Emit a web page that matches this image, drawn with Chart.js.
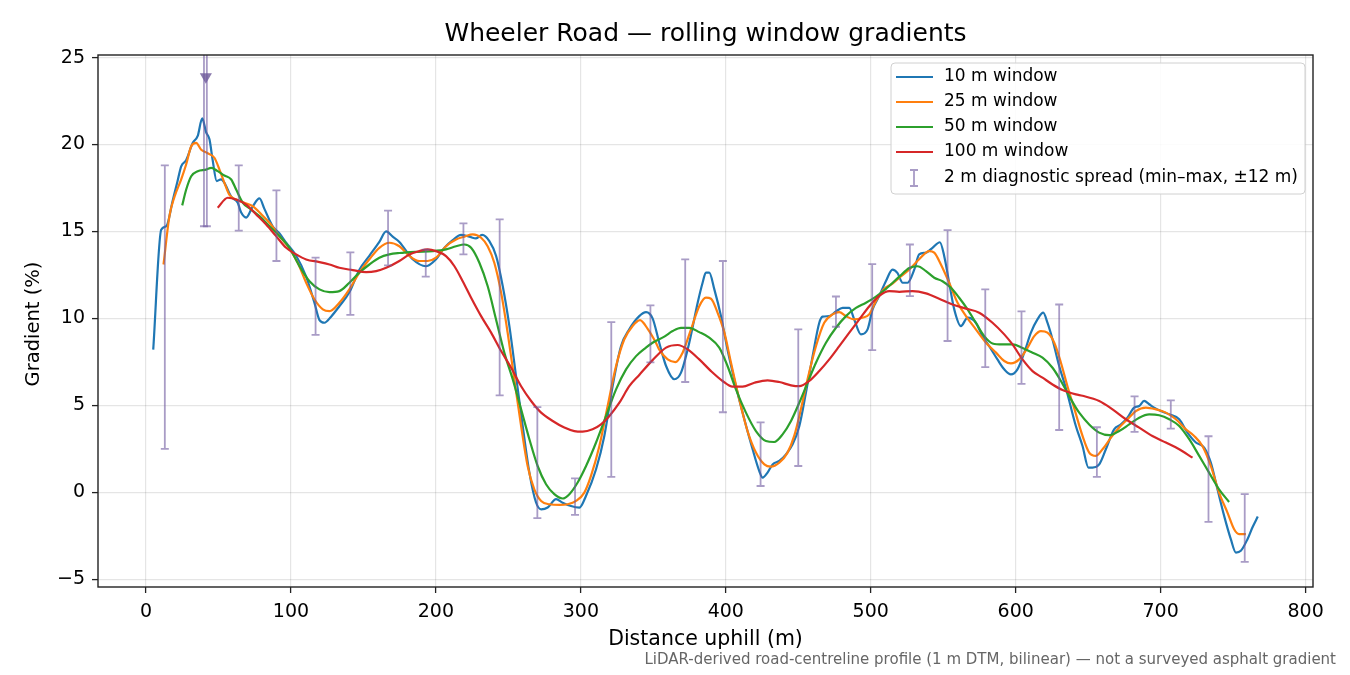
<!DOCTYPE html>
<html>
<head>
<meta charset="utf-8">
<script src="https://cdn.jsdelivr.net/npm/chart.js@4.4.1/dist/chart.umd.min.js"></script>
<style>
  html, body { margin: 0; padding: 0; background: #fff; }
  #wrap { width: 1350px; height: 675px; }
</style>
</head>
<body>
<div id="wrap"><canvas id="chart" width="1350" height="675"></canvas></div>
<script>
// [distance m, gradient %]
const win10 = [[5,8.2],[10.5,15.1],[14,15.3],[18.5,16.8],[21.5,17.8],[24.3,18.75],[27.7,19.1],[32.3,20.1],[35.7,20.5],[38.8,21.5],[41.5,20.7],[43.8,20.3],[46,19.1],[48.8,17.9],[51.8,18.0],[54.1,17.8],[58.8,17.0],[63.3,16.65],[65.6,16.1],[69.1,15.8],[73.7,16.45],[78.3,16.9],[81.7,16.3],[87.4,15.3],[92,14.9],[96.7,14.35],[103.6,13.6],[110.5,12.4],[116.2,10.9],[119.7,9.9],[123.1,9.75],[127.7,10.1],[133.4,10.7],[140.3,11.5],[147.2,12.8],[154.1,13.6],[161,14.4],[165.7,15.0],[170.2,14.7],[174.8,14.4],[184,13.4],[193.2,13.0],[200.1,13.4],[205.9,14.06],[211.6,14.5],[217.4,14.8],[223.1,14.7],[227.7,14.6],[231.9,14.8],[236.9,14.45],[241.5,13.6],[246.1,11.86],[250.7,9.56],[255.3,6.68],[259.9,3.8],[264.5,1.13],[269.1,-0.59],[272.6,-0.98],[277.1,-0.88],[282.9,-0.4],[287.4,-0.6],[293.2,-0.79],[299,-0.88],[303.6,-0.2],[310.5,1.32],[316.2,3.24],[321.9,6.1],[327.7,8.4],[333.4,9.37],[340.3,10.13],[345,10.36],[349.5,10.0],[354.1,8.6],[358.8,7.26],[364.5,6.5],[369.1,6.88],[374.8,8.6],[380.6,10.9],[384,12.05],[386.3,12.63],[388.6,12.63],[392.1,11.67],[396.7,10.13],[401.2,8.2],[407,6.1],[412.8,4.2],[418.5,2.47],[423.1,1.22],[425.4,0.84],[428.8,1.13],[432.3,1.6],[436.9,1.8],[441.5,2.18],[446.1,2.76],[450.7,3.8],[455.3,5.73],[459.9,7.83],[464.5,9.75],[466.8,10.1],[471.4,10.13],[476,10.4],[480.6,10.6],[485.2,10.6],[488.6,9.94],[493.2,9.08],[497.8,9.37],[501.2,10.5],[505.9,11.3],[510.5,12.15],[515,12.8],[518.5,12.6],[522,12.05],[525.4,12.05],[530,12.8],[533.4,13.68],[538.1,13.78],[542.6,14.06],[547.7,14.38],[550.7,13.58],[554.1,12.05],[557.6,10.52],[562.2,9.56],[566.8,10.04],[572.5,9.75],[577.1,8.98],[581.7,8.4],[587.4,7.64],[592.1,7.07],[596.7,6.78],[601.2,7.07],[605.9,8.03],[610.5,9.18],[615,9.94],[619,10.33],[621.9,9.75],[625.4,8.79],[630,7.26],[634.6,6.0],[641.5,3.81],[646.1,2.66],[650.2,1.42],[653,1.42],[657.6,1.6],[662.2,2.47],[667.9,3.62],[672.6,3.9],[677.1,4.29],[681.7,4.87],[685.2,4.96],[688.6,5.25],[692.1,5.06],[695.5,4.87],[700.1,4.67],[705.9,4.48],[712.8,4.2],[718.5,3.43],[724.3,2.86],[730,2.57],[734.6,1.7],[739.2,0.17],[743.8,-1.36],[748.4,-2.7],[751.9,-3.47],[755.3,-3.37],[759.9,-2.7],[763.3,-2.03],[767,-1.4]];

const win25 = [[12.1,13.1],[16.2,15.9],[19.7,17.0],[24.3,18.0],[27.7,18.85],[31.2,19.9],[34.6,20.1],[38.1,19.7],[42.6,19.5],[47.2,19.24],[50.7,18.56],[54.1,17.8],[57.6,17.1],[62.2,16.84],[67.9,16.65],[73.7,16.45],[79.4,16.0],[85.2,15.5],[92.1,14.73],[97.8,14.15],[104.7,13.2],[110.5,12.05],[116.2,11.1],[122,10.52],[126.6,10.42],[133.4,10.9],[140.3,11.67],[147.2,12.63],[154.1,13.4],[161,14.06],[167.9,14.35],[174.8,14.15],[181.7,13.6],[188.6,13.3],[194.3,13.3],[200.1,13.49],[207,14.15],[213.9,14.54],[219.7,14.7],[225.4,14.83],[231.2,14.64],[235.7,14.15],[240.3,13.2],[245,11.48],[249.5,9.18],[254.1,6.5],[258.8,3.81],[263.3,1.51],[267.9,0.17],[272.6,-0.5],[278.3,-0.69],[285.2,-0.73],[290.9,-0.69],[296.7,-0.5],[302.4,-0.02],[307,0.94],[312.8,2.66],[318.5,4.96],[324.3,7.26],[330,8.8],[335.7,9.56],[340.8,9.9],[346.1,9.4],[351.8,8.6],[354.1,8.2],[359.9,7.64],[365.2,7.49],[370.2,8.03],[376,9.37],[381.7,10.7],[386.3,11.19],[389.8,11.13],[394.3,10.33],[399,9.18],[403.6,7.45],[409.3,5.34],[415,3.52],[420.8,2.28],[426.6,1.6],[431.1,1.47],[436.9,1.7],[442.6,2.28],[447.2,3.24],[451.8,4.77],[456.4,6.5],[462.2,8.4],[467.9,9.75],[473.7,10.23],[478.3,10.36],[482.9,10.13],[488.6,9.94],[494.3,10.04],[498.9,10.23],[503.6,11.0],[509.3,11.7],[515,12.0],[519.7,12.34],[526.6,12.82],[533.4,13.4],[540.3,13.87],[543.8,13.78],[548.4,13.1],[554.1,12.05],[559.9,10.9],[565.7,10.13],[572.5,9.37],[579.5,8.6],[586.4,8.03],[592.1,7.55],[596.7,7.41],[602.4,7.64],[608.1,8.3],[612.8,8.98],[617.4,9.27],[621.9,9.18],[626.6,8.6],[631.2,7.45],[635.7,6.1],[641,4.65],[646.1,3.24],[650.7,2.28],[655.3,2.09],[659.9,2.47],[665.7,3.14],[671.4,3.72],[677.1,4.2],[682.9,4.67],[689.8,4.87],[696.7,4.77],[703.6,4.58],[710.5,4.2],[717.4,3.62],[723.1,3.24],[728.8,2.66],[734.6,1.51],[740.3,-0.02],[746.1,-1.17],[750.7,-2.13],[754.1,-2.41],[758.8,-2.41]];

const win50 = [[25,16.5],[27.7,17.4],[31.2,18.18],[35.7,18.47],[41.5,18.56],[45,18.66],[49.5,18.47],[54.1,18.22],[58.8,17.99],[62.2,17.41],[66.8,16.65],[72.6,16.26],[78.3,15.88],[85.2,15.3],[92.1,14.73],[99,14.06],[105.9,13.0],[112.8,12.14],[119.7,11.67],[126.6,11.51],[133.4,11.57],[140.3,12.05],[147.2,12.63],[154.1,13.1],[161,13.49],[167.9,13.68],[174.8,13.76],[186.3,13.83],[197.8,13.87],[207,13.97],[213.9,14.15],[219.7,14.25],[224.3,14.06],[230,13.2],[235.7,11.86],[241.5,9.94],[247.2,8.03],[253,6.5],[258.8,4.77],[264.5,3.05],[270.2,1.51],[276,0.46],[281.7,-0.11],[287.4,-0.36],[292.1,-0.11],[297.8,0.56],[303.6,1.51],[310.5,2.86],[317.4,4.39],[324.3,5.92],[331.2,7.07],[338.1,7.83],[344.9,8.32],[349.5,8.6],[357.6,8.95],[363.3,9.27],[369.1,9.46],[374.8,9.46],[381.7,9.21],[388.6,8.89],[395.5,8.32],[401.2,7.26],[407,5.92],[413.9,4.58],[420.8,3.52],[427.7,2.95],[433.4,2.89],[439.2,3.33],[445,4.1],[450.7,5.15],[456.4,6.3],[462.2,7.45],[469.1,8.6],[476,9.46],[482.9,10.13],[489.8,10.6],[496.7,10.9],[503.6,11.25],[510.5,11.7],[519.7,12.4],[526.6,12.9],[532.3,13.0],[538.1,12.72],[543.8,12.34],[549.5,12.14],[555.3,11.76],[561,11.19],[566.8,10.52],[572.5,9.75],[578.3,8.98],[584,8.56],[590.9,8.5],[597.8,8.5],[604.7,8.3],[611.6,8.03],[618.5,7.74],[625.4,7.16],[631.2,6.4],[636.9,5.53],[641.5,4.87],[643.8,4.58],[650.7,3.9],[657.6,3.43],[664.5,3.28],[671.4,3.52],[678.3,3.9],[685.2,4.29],[692.1,4.48],[699,4.43],[705.9,4.2],[712.8,3.81],[719.7,3.05],[726.6,2.09],[733.4,1.13],[740.3,0.17],[747.2,-0.56]];

const win100 = [[49.5,16.36],[56.4,16.94],[62.2,16.84],[69.1,16.55],[76,15.98],[82.9,15.4],[89.8,14.73],[96.7,14.06],[103.6,13.68],[110.5,13.39],[119.7,13.24],[126.6,13.1],[133.4,12.91],[142.6,12.78],[151.9,12.66],[158.8,12.72],[165.7,12.91],[174.8,13.3],[181.7,13.68],[188.6,13.87],[194.3,13.97],[200.1,13.87],[207,13.58],[212.8,13.0],[218.5,12.14],[224.3,11.19],[231.2,10.13],[238.1,9.18],[245,8.12],[251.9,7.16],[258.8,6.1],[265.7,5.25],[272.6,4.58],[280.6,4.1],[288.6,3.72],[295.5,3.52],[301.2,3.49],[308.1,3.62],[313.9,3.9],[319.7,4.39],[326.6,5.15],[333.4,6.1],[340.3,6.75],[349.5,7.6],[358.8,8.32],[366.8,8.47],[373.7,8.22],[381.7,7.64],[389.8,6.97],[397.8,6.4],[404.7,6.07],[411.6,6.07],[419.7,6.3],[428.8,6.44],[436.9,6.34],[445,6.15],[450.7,6.1],[457.6,6.4],[464.5,6.97],[471.4,7.64],[478.3,8.4],[485.2,9.18],[492.1,9.94],[499,10.7],[505.9,11.3],[512.8,11.57],[519.7,11.53],[528.8,11.57],[538.1,11.44],[547.2,11.13],[556.4,10.8],[565.7,10.56],[574.8,10.33],[584,9.75],[592.1,9.08],[597.8,8.5],[604.7,7.64],[611.6,6.97],[618.5,6.59],[625.4,6.2],[632.3,5.88],[641.5,5.63],[646.1,5.55],[657.6,5.25],[666.8,4.77],[676,4.2],[685.2,3.72],[694.3,3.24],[703.6,2.86],[712.8,2.47],[722,1.99]];

// 2 m diagnostic spread: position, min, max
const spreadX  = [13, 40, 42, 64, 90, 117, 141, 167, 193, 219, 244, 270, 296, 321, 348, 372, 398, 424, 450, 476, 501, 527, 553, 579, 604, 630, 656, 682, 707, 733, 758];
const spreadLo = [2.5, 15.3, 15.3, 15.05, 13.3, 9.05, 10.2, 13.05, 12.4, 13.68, 5.57, -1.49, -1.3, 0.88, 7.47, 6.34, 4.6, 0.36, 1.51, 9.52, 8.18, 11.28, 8.7, 7.2, 6.23, 3.58, 0.88, 3.47, 3.66, -1.7, -4.0];
const spreadHi = [18.8, 27, 27, 18.8, 17.36, 13.5, 13.8, 16.2, 13.95, 15.46, 15.7, 4.9, 0.8, 9.79, 10.75, 13.39, 13.3, 4.02, 9.37, 11.26, 13.12, 14.25, 15.08, 11.67, 10.4, 10.8, 3.74, 5.52, 5.29, 3.22, -0.11];
// off-scale marker for the clipped spread
const clipMark = [[41.3, 23.9]];

const xTicks = [0, 100, 200, 300, 400, 500, 600, 700, 800];
const yTicks = [-5, 0, 5, 10, 15, 20, 25];

const seriesNames  = ['10 m window', '25 m window', '50 m window', '100 m window'];
const seriesColors = ['#1f77b4', '#ff7f0e', '#2ca02c', '#d62728'];
const spreadLabel = '2 m diagnostic spread (min\u2013max, \u00b112 m)';
const spreadColor = 'rgba(112, 90, 160, 0.6)';

const FONT = "'DejaVu Sans', 'Noto Sans', sans-serif";

const toPts = (arr) => arr.map(p => ({ x: p[0], y: p[1] }));

const lineSet = (data, i) => ({
  type: 'line',
  label: seriesNames[i],
  data: toPts(data),
  borderColor: seriesColors[i],
  backgroundColor: seriesColors[i],
  borderWidth: 2.2,
  pointRadius: 0,
  tension: 0,
  cubicInterpolationMode: 'monotone',
  fill: false,
  order: 4 - i
});

const decor = {
  id: 'decor',
  afterDatasetsDraw(chart) {
    const { ctx, chartArea: a, scales: { x, y } } = chart;
    ctx.save();
    ctx.beginPath();
    ctx.rect(a.left, a.top, a.right - a.left, a.bottom - a.top);
    ctx.clip();
    ctx.strokeStyle = spreadColor;
    ctx.lineWidth = 1.8;
    spreadX.forEach((d, i) => {
      const px = x.getPixelForValue(d);
      const lo = y.getPixelForValue(spreadLo[i]);
      const hi = y.getPixelForValue(spreadHi[i]);
      ctx.beginPath();
      ctx.moveTo(px, lo); ctx.lineTo(px, hi);
      ctx.moveTo(px - 4, lo); ctx.lineTo(px + 4, lo);
      ctx.moveTo(px - 4, hi); ctx.lineTo(px + 4, hi);
      ctx.stroke();
    });
    ctx.restore();
  },
  afterDraw(chart) {
    const { ctx, chartArea: a } = chart;
    ctx.save();
    // axes box
    ctx.strokeStyle = '#222';
    ctx.lineWidth = 1.4;
    ctx.strokeRect(a.left, a.top, a.right - a.left, a.bottom - a.top);

    ctx.fillStyle = '#000';
    ctx.textAlign = 'center';
    ctx.textBaseline = 'middle';
    ctx.font = '25px ' + FONT;
    ctx.fillText('Wheeler Road \u2014 rolling window gradients', (a.left + a.right) / 2, 34);

    ctx.font = '20.5px ' + FONT;
    ctx.fillText('Distance uphill (m)', (a.left + a.right) / 2, 640);
    ctx.save();
    ctx.font = '19.5px ' + FONT;
    ctx.translate(34, (a.top + a.bottom) / 2 + 3);
    ctx.rotate(-Math.PI / 2);
    ctx.fillText('Gradient (%)', 0, 0);
    ctx.restore();

    ctx.fillStyle = '#666';
    ctx.textAlign = 'right';
    ctx.font = '15px ' + FONT;
    ctx.fillText('LiDAR-derived road-centreline profile (1 m DTM, bilinear) \u2014 not a surveyed asphalt gradient', 1336, 660);

    // legend
    const lx = 891, ly = 63, lw = 414, lh = 131;
    ctx.fillStyle = 'rgba(255,255,255,0.85)';
    ctx.strokeStyle = '#d0d0d0';
    ctx.lineWidth = 1;
    ctx.beginPath();
    ctx.roundRect(lx, ly, lw, lh, 4);
    ctx.fill();
    ctx.stroke();
    ctx.font = '17px ' + FONT;
    ctx.textAlign = 'left';
    const rows = [77, 102, 127, 152, 178];
    seriesNames.forEach((name, i) => {
      ctx.strokeStyle = seriesColors[i];
      ctx.lineWidth = 2.2;
      ctx.beginPath();
      ctx.moveTo(896, rows[i]); ctx.lineTo(933, rows[i]);
      ctx.stroke();
      ctx.fillStyle = '#000';
      ctx.fillText(name, 944, rows[i]);
    });
    ctx.strokeStyle = spreadColor;
    ctx.lineWidth = 1.8;
    ctx.beginPath();
    ctx.moveTo(914, rows[4] - 8); ctx.lineTo(914, rows[4] + 8);
    ctx.moveTo(910, rows[4] - 8); ctx.lineTo(918, rows[4] - 8);
    ctx.moveTo(910, rows[4] + 8); ctx.lineTo(918, rows[4] + 8);
    ctx.stroke();
    ctx.fillStyle = '#000';
    ctx.fillText(spreadLabel, 944, rows[4]);
    ctx.restore();
  }
};

const ctx = document.getElementById('chart').getContext('2d');
new Chart(ctx, {
  data: {
    datasets: [
      lineSet(win10, 0),
      lineSet(win25, 1),
      lineSet(win50, 2),
      lineSet(win100, 3),
      {
        type: 'scatter',
        label: 'clipped',
        data: toPts(clipMark),
        pointStyle: 'triangle',
        rotation: 180,
        pointRadius: 7,
        backgroundColor: '#8a7aad',
        borderColor: '#8a7aad',
        borderWidth: 0,
        order: 0
      }
    ]
  },
  options: {
    responsive: false,
    animation: false,
    devicePixelRatio: 1,
    layout: { padding: { left: 38, right: 37, top: 55, bottom: 58 } },
    plugins: {
      legend: { display: false },
      tooltip: { enabled: false },
      title: { display: false }
    },
    scales: {
      x: {
        type: 'linear',
        min: -33.1,
        max: 805.1,
        afterBuildTicks: (s) => { s.ticks = xTicks.map(v => ({ value: v })); },
        afterFit: (s) => { s.height = 30; },
        grid: { color: 'rgba(0,0,0,0.1)', lineWidth: 1.2, tickColor: '#222', tickLength: 6, tickWidth: 1.3 },
        border: { display: false },
        ticks: { color: '#000', font: { family: FONT, size: 19 }, padding: 8, maxRotation: 0 }
      },
      y: {
        type: 'linear',
        min: -5.45,
        max: 25.15,
        afterBuildTicks: (s) => { s.ticks = yTicks.map(v => ({ value: v })); },
        afterFit: (s) => { s.width = 60; },
        grid: { color: 'rgba(0,0,0,0.1)', lineWidth: 1.2, tickColor: '#222', tickLength: 6, tickWidth: 1.3 },
        border: { display: false },
        ticks: {
          color: '#000',
          font: { family: FONT, size: 19 },
          padding: 7,
          callback: (v) => (v < 0 ? '\u2212' + Math.abs(v) : String(v))
        }
      }
    }
  },
  plugins: [decor]
});
</script>
</body>
</html>
